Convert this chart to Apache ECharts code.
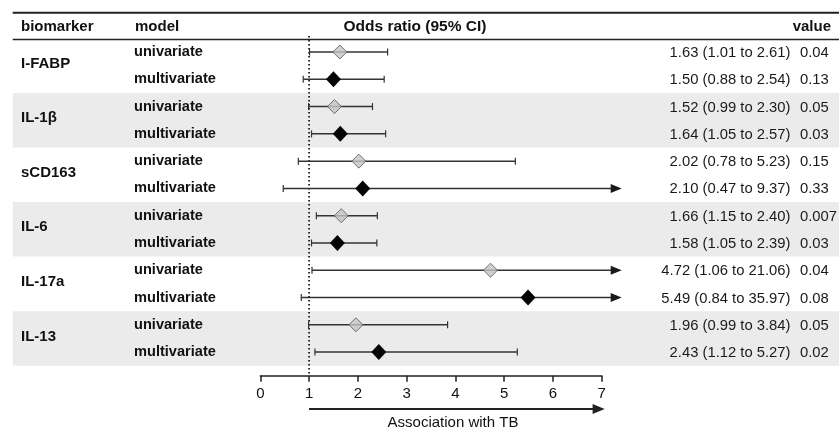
<!DOCTYPE html>
<html>
<head>
<meta charset="utf-8">
<script src="https://cdn.jsdelivr.net/npm/echarts@6/dist/echarts.min.js"></script>
<style>
html,body{margin:0;padding:0;background:#fff;}
#chart{width:839px;height:429px;}
</style>
</head>
<body>
<div id="chart"></div>
<script>
// ---- data ----
const biomarkers = ['I-FABP', 'IL-1β', 'sCD163', 'IL-6', 'IL-17a', 'IL-13'];
const models = ['univariate', 'multivariate'];
const orValues = [1.63, 1.50, 1.52, 1.64, 2.02, 2.10, 1.66, 1.58, 4.72, 5.49, 1.96, 2.43];
const ciLower  = [1.01, 0.88, 0.99, 1.05, 0.78, 0.47, 1.15, 1.05, 1.06, 0.84, 0.99, 1.12];
const ciUpper  = [2.61, 2.54, 2.30, 2.57, 5.23, 9.37, 2.40, 2.39, 21.06, 35.97, 3.84, 5.27];
const pValues  = ['0.04', '0.13', '0.05', '0.03', '0.15', '0.33', '0.007', '0.03', '0.04', '0.08', '0.05', '0.02'];
const xTicks   = [0, 1, 2, 3, 4, 5, 6, 7];
const headers  = ['biomarker', 'model', 'Odds ratio (95% CI)', 'value'];
const axisTitle = 'Association with TB';
const refValue = 1;
const arrowValue = 7.41;   // where truncated CIs end in arrows
const axisArrowEnd = 7.06; // end of the "Association with TB" arrow
const shadedGroups = [1, 3, 5];

// ---- build ----
const FONT = '"Liberation Sans", Arial, Helvetica, sans-serif';
const TXT = '#111';
const rowIds = [];
const rowData = [];
biomarkers.forEach((b, g) => {
  models.forEach((m, k) => {
    const i = g * 2 + k;
    rowIds.push(String(i));
    rowData.push({ i, g, k, b, m });
  });
});
const orText = orValues.map((v, i) => `${v.toFixed(2)} (${ciLower[i].toFixed(2)} to ${ciUpper[i].toFixed(2)})`);

const chart = echarts.init(document.getElementById('chart'), null, { renderer: 'canvas' });

const option = {
  animation: false,
  backgroundColor: '#fff',
  grid: { left: 260.3, right: 237.3, top: 38.4, bottom: 63.3, containLabel: false },
  xAxis: {
    type: 'value', min: xTicks[0], max: xTicks[xTicks.length - 1], interval: 1,
    offset: 10,
    axisLine: { show: true, lineStyle: { color: '#222', width: 1.5 } },
    axisTick: { show: true, inside: false, length: 6, lineStyle: { color: '#222', width: 1.5 } },
    axisLabel: { fontSize: 15, color: TXT, fontFamily: FONT, margin: 11 },
    splitLine: { show: false }
  },
  yAxis: {
    type: 'category', data: rowIds, inverse: true, show: false,
    axisLine: { show: false }, axisTick: { show: false }, axisLabel: { show: false }, splitLine: { show: false }
  },
  graphic: [
    { type: 'line', shape: { x1: 12.7, y1: 12.7, x2: 839, y2: 12.7 }, style: { stroke: '#222', lineWidth: 2 }, z: 10 },
    { type: 'line', shape: { x1: 12.7, y1: 39.6, x2: 839, y2: 39.6 }, style: { stroke: '#222', lineWidth: 1.5 }, z: 10 },
    { type: 'text', x: 21, y: 27, style: { text: headers[0], font: `bold 15px ${FONT}`, fill: TXT, verticalAlign: 'middle', align: 'left' } },
    { type: 'text', x: 135, y: 27, style: { text: headers[1], font: `bold 15px ${FONT}`, fill: TXT, verticalAlign: 'middle', align: 'left' } },
    { type: 'text', x: 415, y: 27, style: { text: headers[2], font: `bold 15.5px ${FONT}`, fill: TXT, verticalAlign: 'middle', align: 'center' } },
    { type: 'text', x: 831, y: 27, style: { text: headers[3], font: `bold 15px ${FONT}`, fill: TXT, verticalAlign: 'middle', align: 'right' } }
  ],
  series: [
    // shaded group bands
    {
      type: 'custom', z: 0, silent: true, clip: false,
      data: shadedGroups.map(g => [0, g * 2]),
      renderItem: (params, api) => {
        const r = api.value(1);
        const p1 = api.coord([0, r]);
        const p2 = api.coord([0, r + 1]);
        const h = api.size([0, 1])[1];
        const y1 = p1[1] - h / 2, y2 = p2[1] + h / 2;
        return { type: 'rect', shape: { x: 12.7, y: y1, width: 839 - 12.7, height: y2 - y1 }, style: { fill: '#ebebeb' } };
      }
    },
    // reference line at OR = 1 and bottom arrow/title
    {
      type: 'custom', z: 3, silent: true, clip: false,
      data: [[refValue, 0]],
      renderItem: (params, api) => {
        const top = api.coord([refValue, 0]);
        const x = top[0];
        const endX = api.coord([axisArrowEnd, 0])[0];
        const ay = 409;
        return {
          type: 'group', children: [
            { type: 'line', shape: { x1: x, y1: 36, x2: x, y2: 375 }, style: { stroke: '#000', lineWidth: 1.6, lineDash: [1.5, 2.5] } },
            { type: 'line', shape: { x1: x, y1: ay, x2: endX - 8, y2: ay }, style: { stroke: '#222', lineWidth: 2 } },
            { type: 'polygon', shape: { points: [[endX, ay], [endX - 12, ay - 5], [endX - 12, ay + 5]] }, style: { fill: '#222' } },
            { type: 'text', x: 453, y: 423, style: { text: axisTitle, font: `15px ${FONT}`, fill: TXT, align: 'center', verticalAlign: 'middle' } }
          ]
        };
      }
    },
    // error bars
    {
      type: 'custom', z: 4, silent: true, clip: false,
      data: rowData.map(d => [ciLower[d.i], d.i, ciUpper[d.i]]),
      renderItem: (params, api) => {
        const lo = api.value(0), r = api.value(1), hi = api.value(2);
        const p1 = api.coord([lo, r]);
        const arrow = hi > arrowValue;
        const p2 = api.coord([arrow ? arrowValue : hi, r]);
        const y = p1[1];
        const col = '#333';
        const children = [
          { type: 'line', shape: { x1: p1[0], y1: y, x2: arrow ? p2[0] - 6 : p2[0], y2: y }, style: { stroke: col, lineWidth: 1.5 } },
          { type: 'line', shape: { x1: p1[0], y1: y - 3.5, x2: p1[0], y2: y + 3.5 }, style: { stroke: col, lineWidth: 1.2 } }
        ];
        if (arrow) {
          children.push({ type: 'polygon', shape: { points: [[p2[0], y], [p2[0] - 11, y - 4.5], [p2[0] - 11, y + 4.5]] }, style: { fill: '#1a1a1a' } });
        } else {
          children.push({ type: 'line', shape: { x1: p2[0], y1: y - 3.5, x2: p2[0], y2: y + 3.5 }, style: { stroke: col, lineWidth: 1.2 } });
        }
        return { type: 'group', children };
      }
    },
    // univariate points
    {
      type: 'scatter', z: 5, silent: true, symbol: 'diamond', symbolSize: [14, 14],
      itemStyle: { color: '#c4c4c4', borderColor: '#555', borderWidth: 1 },
      data: rowData.filter(d => d.k === 0).map(d => [orValues[d.i], String(d.i)])
    },
    // multivariate points
    {
      type: 'scatter', z: 5, silent: true, symbol: 'diamond', symbolSize: [15, 16],
      itemStyle: { color: '#050505', borderColor: '#050505', borderWidth: 0, opacity: 1 },
      data: rowData.filter(d => d.k === 1).map(d => [orValues[d.i], String(d.i)])
    },
    // row texts
    {
      type: 'custom', z: 6, silent: true, clip: false,
      data: rowData.map(d => [0, d.i]),
      renderItem: (params, api) => {
        const r = api.value(1);
        const d = rowData[r];
        const y = api.coord([0, r])[1];
        const children = [
          { type: 'text', x: 134, y: y, style: { text: d.m, font: `bold 14.6px ${FONT}`, fill: TXT, align: 'left', verticalAlign: 'middle' } },
          { type: 'text', x: 790.5, y: y + 1, style: { text: orText[r], font: `14.8px ${FONT}`, fill: '#1a1a1a', align: 'right', verticalAlign: 'middle' } },
          { type: 'text', x: 800, y: y + 1, style: { text: pValues[r], font: `14.8px ${FONT}`, fill: '#1a1a1a', align: 'left', verticalAlign: 'middle' } }
        ];
        if (d.k === 0) {
          const y2 = api.coord([0, r + 1])[1];
          children.push({ type: 'text', x: 21, y: (y + y2) / 2 - 2, style: { text: d.b, font: `bold 15px ${FONT}`, fill: TXT, align: 'left', verticalAlign: 'middle' } });
        }
        return { type: 'group', children };
      }
    }
  ]
};
chart.setOption(option);
</script>
</body>
</html>
